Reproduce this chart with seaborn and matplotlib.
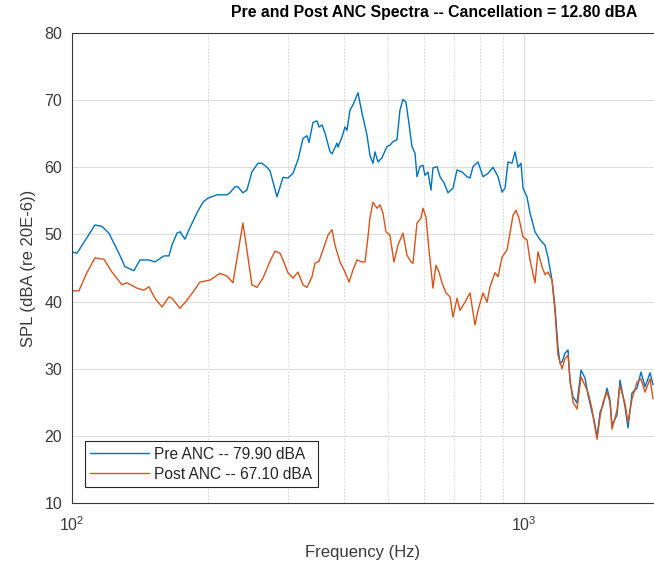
import numpy as np
import pandas as pd
import seaborn as sns
import matplotlib.pyplot as plt
from matplotlib.ticker import LogLocator, LogFormatterSciNotation, NullFormatter

# spectra (frequency in Hz, level in dBA)
pre_freq = [100, 102.6, 107.9, 112.4, 116.5, 120.7, 127.0, 131.0, 137.1, 141.4,
            148.0, 152.6, 159.8, 163.9, 166.4, 170.8, 173.4, 177.8, 182.4, 189.0,
            194.9, 199.9, 209.3, 220.3, 223.6, 229.4, 232.9, 238.9, 243.8, 250.1,
            257.9, 263.2, 270.0, 274.2, 284.2, 293.0, 300.5, 308.3, 316.2, 324.4,
            331.1, 334.5, 341.4, 348.4, 352.0, 357.4, 362.9, 372.3, 376.1, 385.8,
            387.7, 395.7, 401.8, 405.9, 412.1, 418.5, 429.3, 438.1, 449.4, 456.3,
            463.4, 468.1, 475.3, 485.0, 497.5, 505.1, 512.9, 523.6, 531.6, 539.8,
            548.1, 556.6, 565.2, 573.9, 579.8, 588.7, 597.7, 603.9, 613.2, 622.6,
            629.0, 642.0, 652.0, 665.3, 679.0, 696.5, 710.9, 729.2, 748.0, 759.5,
            771.3, 791.2, 811.6, 832.6, 854.0, 876.1, 894.1, 907.9, 921.8, 940.9,
            955.4, 970.0, 984.9, 995.0, 1015.3, 1031.0, 1057.6, 1085.0, 1113.0, 1130.0,
            1153.2, 1171.0, 1189.0, 1201.3, 1213.6, 1232.3, 1251.3, 1264.2, 1283.6, 1310.1,
            1337.0, 1364.6, 1385.5, 1414.0, 1428.6, 1450.5, 1472.9, 1495.6, 1526.3, 1549.8,
            1565.6, 1606.0, 1630.7, 1672.9, 1698.6, 1733.4, 1778.3, 1814.8, 1852.2, 1900.1,
            1929.2]
pre_spl = [47.4, 47.2, 49.5, 51.4, 51.2, 50.2, 47.2, 45.2, 44.6, 46.2,
           46.2, 45.9, 46.8, 46.8, 48.4, 50.2, 50.4, 49.3, 51.0, 53.2,
           54.8, 55.4, 55.9, 55.9, 56.2, 57.1, 57.1, 56.2, 56.6, 59.3,
           60.6, 60.6, 60.0, 59.5, 55.6, 58.5, 58.4, 59.1, 61.1, 64.3,
           64.7, 63.7, 66.7, 66.9, 66.0, 66.3, 65.1, 62.3, 62.0, 63.6,
           63.0, 64.5, 66.0, 65.5, 68.5, 69.3, 71.1, 68.1, 64.8, 61.8,
           60.6, 62.3, 60.8, 61.4, 63.1, 63.3, 63.8, 64.1, 68.5, 70.1,
           69.7, 66.5, 63.1, 62.1, 58.6, 60.1, 60.3, 58.8, 59.3, 56.6,
           59.9, 60.1, 58.6, 57.7, 56.2, 56.9, 59.6, 59.3, 58.6, 58.4,
           60.1, 60.8, 58.6, 59.1, 60.0, 58.6, 56.3, 56.9, 60.8, 60.6,
           62.3, 60.0, 60.6, 56.9, 55.6, 53.2, 50.4, 49.2, 48.4, 46.6,
           43.2, 39.2, 33.2, 30.8, 31.0, 32.3, 32.8, 28.0, 25.8, 24.9,
           29.8, 28.6, 26.1, 23.5, 22.4, 19.8, 23.5, 24.6, 27.1, 25.3,
           21.6, 23.1, 28.3, 24.3, 21.2, 26.4, 27.1, 29.5, 27.3, 29.4,
           27.6]

post_freq = [100, 103.6, 107.9, 112.4, 117.7, 122.6, 129.0, 132.3, 139.3, 144.3,
             148.0, 152.6, 158.2, 163.9, 166.4, 173.4, 179.6, 185.2, 191.9, 202.0,
             212.5, 220.3, 227.1, 238.9, 243.8, 250.1, 256.6, 264.6, 274.2, 281.3,
             288.6, 293.0, 300.5, 308.3, 316.2, 324.4, 331.1, 339.6, 344.9, 352.0,
             359.2, 368.5, 376.1, 381.9, 391.7, 401.8, 410.1, 418.5, 427.1, 438.1,
             444.9, 451.7, 456.3, 463.4, 472.9, 480.1, 487.5, 495.0, 505.1, 515.5,
             526.2, 539.8, 551.0, 562.3, 568.1, 579.8, 591.7, 597.7, 607.0, 616.3,
             629.0, 638.7, 648.5, 658.6, 672.1, 686.0, 696.5, 710.9, 721.8, 740.4,
             759.5, 779.2, 791.2, 811.6, 828.3, 841.0, 862.7, 876.1, 894.1, 917.2,
             931.2, 945.7, 960.1, 974.8, 995.0, 1015.3, 1031.0, 1057.6, 1074.0, 1096.0,
             1113.0, 1130.0, 1153.2, 1171.0, 1189.0, 1213.6, 1232.3, 1251.3, 1264.2, 1283.6,
             1310.1, 1337.0, 1364.6, 1385.5, 1414.0, 1428.6, 1450.5, 1472.9, 1495.6, 1526.3,
             1549.8, 1565.6, 1606.0, 1630.7, 1672.9, 1698.6, 1733.4, 1778.3, 1814.8, 1852.2,
             1900.1, 1929.2]
post_spl = [41.6, 41.6, 44.3, 46.5, 46.3, 44.4, 42.5, 42.8, 42.0, 41.7,
            42.2, 40.5, 39.2, 40.7, 40.5, 39.0, 40.2, 41.4, 42.9, 43.2,
            44.2, 43.8, 42.8, 51.7, 47.7, 42.5, 42.1, 43.5, 46.0, 47.5,
            47.2, 46.2, 44.3, 43.5, 44.4, 42.5, 42.1, 43.7, 45.7, 46.0,
            47.7, 49.9, 50.7, 48.4, 45.9, 44.4, 42.9, 44.7, 46.2, 45.9,
            45.9, 49.6, 52.5, 54.8, 53.9, 54.4, 53.2, 50.4, 49.9, 45.9,
            48.4, 50.2, 46.9, 45.9, 45.7, 51.7, 52.4, 53.9, 52.6, 47.7,
            42.0, 45.4, 44.4, 42.8, 41.3, 40.7, 37.7, 40.5, 38.7, 39.9,
            41.3, 36.5, 38.7, 41.3, 39.9, 42.2, 44.3, 43.7, 46.6, 47.7,
            50.2, 52.9, 53.6, 52.4, 49.6, 49.2, 46.2, 42.8, 47.4, 45.2,
            44.0, 44.4, 43.2, 38.5, 32.0, 30.0, 31.5, 32.0, 28.5, 25.0,
            24.0, 28.8, 27.5, 26.5, 24.0, 22.0, 19.5, 22.8, 25.0, 26.5,
            25.0, 21.0, 23.8, 27.5, 24.8, 22.0, 25.5, 28.0, 28.5, 26.5,
            28.5, 25.5]

pre_label = 'Pre ANC -- 79.90 dBA'
post_label = 'Post ANC -- 67.10 dBA'

df = pd.concat([
    pd.DataFrame({'freq': pre_freq, 'spl': pre_spl, 'series': pre_label}),
    pd.DataFrame({'freq': post_freq, 'spl': post_spl, 'series': post_label}),
])

sns.set_style('white')
plt.rcParams['font.family'] = ['Liberation Sans', 'DejaVu Sans']

fig = plt.figure(figsize=(6.54, 5.69), dpi=100)
ax = fig.add_axes([0.110, 0.116, 0.890, 0.826])

sns.lineplot(data=df, x='freq', y='spl', hue='series', estimator=None, sort=True,
             palette={pre_label: '#0072BD', post_label: '#D95319'},
             linewidth=1.0, ax=ax)

ax.set_xscale('log')
ax.set_xlim(100, 1939)
ax.set_ylim(10, 80)
ax.set_yticks(range(10, 81, 10))
ax.xaxis.set_major_locator(LogLocator(base=10))
ax.xaxis.set_major_formatter(LogFormatterSciNotation())
ax.xaxis.set_minor_locator(LogLocator(base=10, subs=np.arange(2, 10)))
ax.xaxis.set_minor_formatter(NullFormatter())

ax.grid(True, which='major', color='#dcdcdc', linewidth=0.8)
ax.grid(True, which='minor', axis='x', color='#d0d0d0', linewidth=0.6, linestyle=(0, (2, 2)))
ax.tick_params(which='both', direction='in', colors='#3a3a3a', labelsize=11.5, length=4)
ax.tick_params(which='minor', length=2)
ax.tick_params(axis='x', pad=9)
ax.tick_params(axis='y', pad=7)
for side in ['left', 'bottom', 'top']:
    ax.spines[side].set_color('#3a3a3a')
    ax.spines[side].set_linewidth(0.8)
ax.spines['right'].set_visible(False)

ax.set_xlabel('Frequency (Hz)', fontsize=12, color='#3a3a3a', labelpad=8)
ax.set_ylabel('SPL (dBA (re 20E-6))', fontsize=12, color='#3a3a3a', labelpad=6)
fig.text(0.664, 0.978, 'Pre and Post ANC Spectra -- Cancellation = 12.80 dBA',
         ha='center', va='center', fontsize=11.4, fontweight='bold', color='black')

leg = ax.legend(loc='lower left', bbox_to_anchor=(0.022, 0.034), borderaxespad=0,
                fontsize=11.2, handlelength=3.8, frameon=True, fancybox=False,
                edgecolor='#262626', framealpha=1, borderpad=0.35, labelspacing=0.3,
                handletextpad=0.3)
leg.get_frame().set_linewidth(0.8)

fig.savefig('out.png', dpi=100)
